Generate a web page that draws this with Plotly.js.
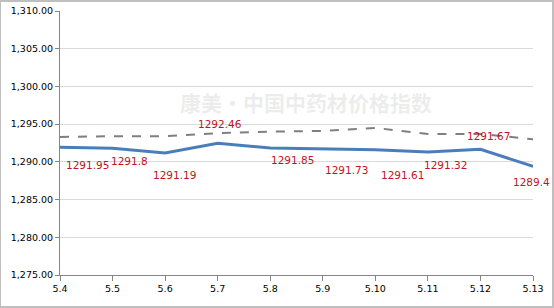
<!DOCTYPE html>
<html><head><meta charset="utf-8">
<script src="https://cdn.plot.ly/plotly-3.0.1.min.js"></script>
<style>html,body{margin:0;padding:0;background:#fff}#c{width:554px;height:308px}</style>
</head><body><div id="c"></div>
<script>
const dates = ["5.4","5.5","5.6","5.7","5.8","5.9","5.10","5.11","5.12","5.13"];
const indexValues = [1291.95,1291.8,1291.19,1292.46,1291.85,1291.73,1291.61,1291.32,1291.67,1289.4];
const avgValues = [1293.3,1293.4,1293.4,1293.8,1294.0,1294.1,1294.5,1293.7,1293.7,1293.0];
const labelTexts = ["1291.95","1291.8","1291.19","1292.46","1291.85","1291.73","1291.61","1291.32","1291.67","1289.4"];
const yTicks = [1275,1280,1285,1290,1295,1300,1305,1310];

// label offsets (style only)
const lx = [27,17,9,2,22,24,27,18,8,-2];
const ly = [-18,-13,-22,19,-12,-21,-25,-13,13,-16];

const annotations = dates.map((d,i)=>({
  x:i, y:indexValues[i], xref:'x', yref:'y', text:labelTexts[i], showarrow:false,
  xshift:lx[i], yshift:ly[i], font:{family:'DejaVu Sans', size:10.5, color:'#C0141E'}
}));
annotations.push({xref:'paper',yref:'paper',x:0.52,y:0.655,showarrow:false,
  text:'<b>康美·中国中药材价格指数</b>', font:{family:'Noto Sans CJK SC',size:21,color:'rgba(170,170,170,0.22)'}});

Plotly.newPlot('c',[
  {x:dates.map((d,i)=>i), y:avgValues, mode:'lines', line:{color:'#7F7F7F',width:2,dash:'dash'}, hoverinfo:'skip'},
  {x:dates.map((d,i)=>i), y:indexValues, mode:'lines', line:{color:'#4A7EBB',width:3}, hoverinfo:'skip'}
],{
  width:554,height:308,showlegend:false,
  margin:{l:60,r:21,t:11,b:33},
  paper_bgcolor:'#fff',plot_bgcolor:'#fff',
  xaxis:{range:[0,9],tickvals:dates.map((d,i)=>i),ticktext:dates,showgrid:false,zeroline:false,
    showline:true,linecolor:'#868686',linewidth:1,ticks:'outside',ticklen:5,tickcolor:'#868686',
    tickfont:{family:'DejaVu Sans',size:9.5,color:'#000'}},
  yaxis:{range:[1275,1310],tickvals:yTicks,ticktext:yTicks.map(v=>v.toLocaleString('en-US',{minimumFractionDigits:2})),
    showgrid:true,gridcolor:'#D9D9D9',gridwidth:1,zeroline:false,
    showline:true,linecolor:'#868686',linewidth:1,ticks:'outside',ticklen:4,tickcolor:'#868686',
    tickfont:{family:'DejaVu Sans',size:9.5,color:'#000'}},
  annotations:annotations,
  shapes:[{type:'rect',xref:'paper',yref:'paper',x0:-60/473,x1:1+20/473,y0:-32/264,y1:1+10/264,
    line:{color:'#BFBFBF',width:2}}]
},{staticPlot:true});
</script></body></html>
